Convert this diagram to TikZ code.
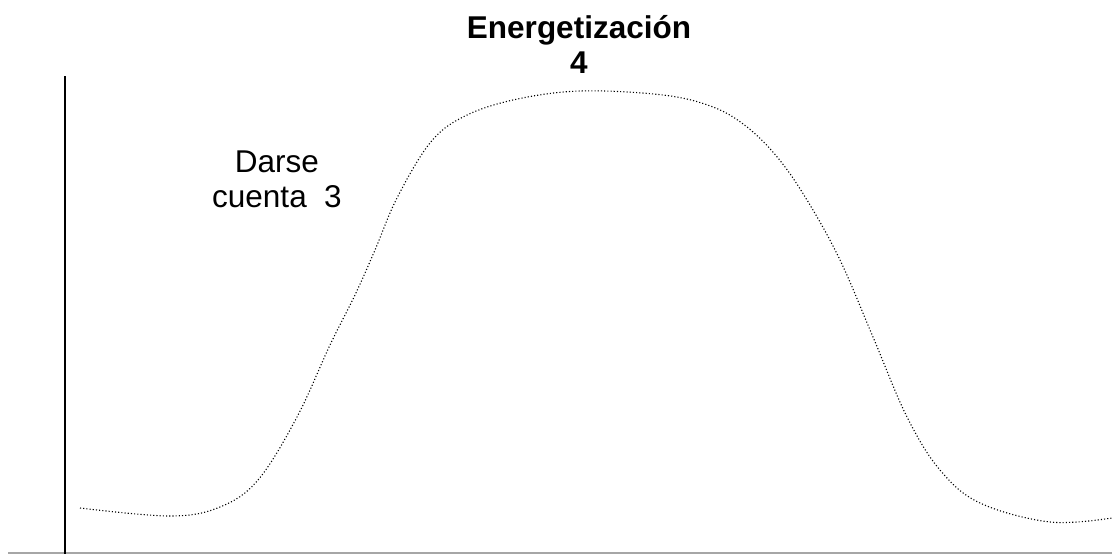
\documentclass[tikz,border=0pt]{standalone}
\usepackage{fontspec}
\setmainfont{Liberation Sans}
\begin{document}
\begin{tikzpicture}[x=1pt,y=-1pt,
  curve/.style={line width=1.1pt, dash pattern=on 1.1pt off 2.1pt, black},
  lbl/.style={align=center, font=\fontsize{31.5}{35}\selectfont, inner sep=0pt}]
\useasboundingbox (0,0) rectangle (1112,555);
\draw[gray!70, line width=1.2pt] (8,553) -- (1112,553);
\draw[black, line width=1.8pt] (65,76) -- (65,554);
\draw[curve] plot[smooth, tension=0.6] coordinates {
 (80,508) (170,516) (220,507) (258,480) (297,417) (330,345) (355,295) (375,250)
 (397,198) (430,143) (463,117) (513,100) (580,91) (663,95) (713,107) (747,127)
 (778,158) (807,200) (840,260) (873,337) (907,417) (940,470) (980,503) (1050,522)
 (1112,518)};
\node[lbl, font=\bfseries\fontsize{31.5}{35}\selectfont, anchor=base] (t) at (579,73) {Energetización\\4};
\node[lbl, anchor=base] (d) at (277,207) {Darse\\cuenta\ \ 3};
\end{tikzpicture}
\end{document}
